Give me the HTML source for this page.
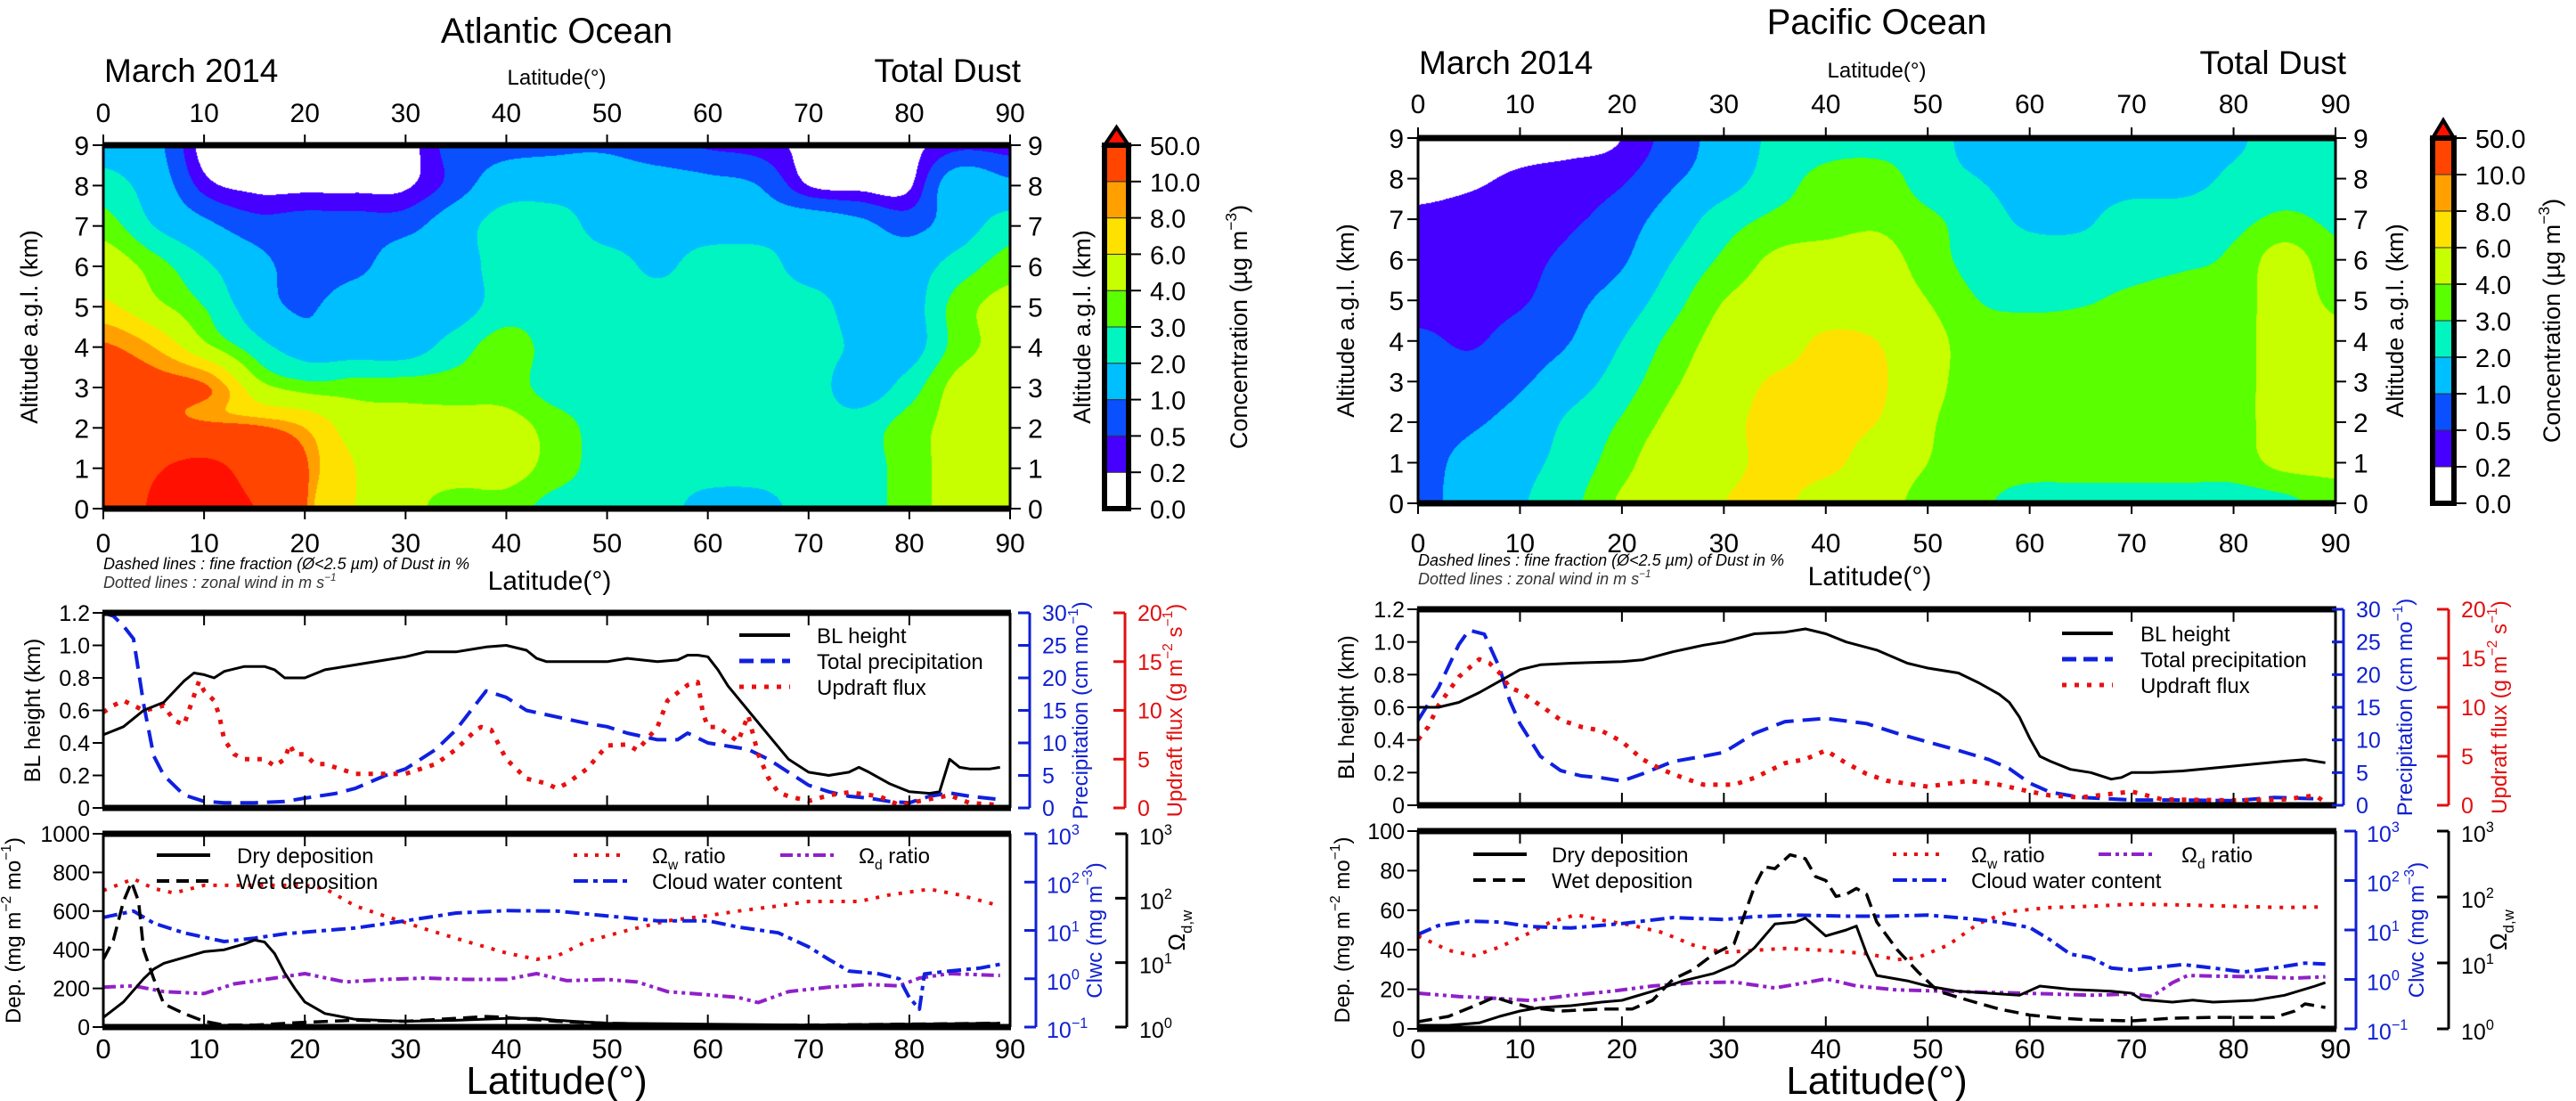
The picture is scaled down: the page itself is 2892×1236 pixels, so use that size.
<!DOCTYPE html>
<html><head><meta charset="utf-8">
<style>
html,body{margin:0;padding:0;background:#fff;}
#wrap{position:relative;width:2892px;height:1236px;overflow:hidden;background:#fff;font-family:"Liberation Sans",sans-serif;}
canvas{position:absolute;}
#fig{position:absolute;left:0;top:0;}
</style></head>
<body>
<div id="wrap">
<canvas id="atl-map" width="1018" height="408" style="left:116px;top:163px"></canvas>
<canvas id="pac-map" width="1030" height="410" style="left:1592px;top:155px"></canvas>
<svg id="fig" xmlns="http://www.w3.org/2000/svg" width="2892" height="1236" font-family="Liberation Sans, sans-serif"></svg>
</div>
<script>
// ---------- DATA ----------
const latGrid=[0,5,10,15,20,25,30,35,40,45,50,55,60,65,70,75,80,85,90];
const altGrid=[0,1,2,3,4,5,6,7,8,9];
const atlConc=[
[15,55,60,50,11,6,4.5,3.5,3.5,2.5,2.5,2.5,1.5,1.5,2.5,2.5,3.5,4.5,4.5],
[15,45,60,35,11,6,4.5,4.5,4.5,3.5,2.5,2.5,2.5,2.5,2.5,2.5,3.5,4.5,4.5],
[15,15,13,11,8,5,4.5,4.5,4.5,3.5,2.5,2.5,2.5,2.5,2.5,2.5,3.5,4.5,5],
[14,12,10.5,5,3.5,3.5,3.5,3.5,3.5,2.5,2.5,2.5,2.5,2.5,2.5,1.5,2.5,4.5,5],
[10.5,8,4.5,2.5,1.5,1.5,1.5,2.5,3.5,2.5,2.5,2.5,2.5,2.5,2.5,1.8,1.5,3.5,4.5],
[6.5,4.5,3,1.5,0.9,1.5,1.5,1.5,2.5,2.5,2.5,2.5,2.5,2.5,2.5,1.5,1.5,3.5,4.5],
[5,3.5,2.2,1.3,0.7,0.8,1.5,1.5,2.5,2.5,2.5,1.8,2.5,2.5,1.5,1.5,1.5,2.5,3.5],
[3.5,2,1.2,0.7,0.7,0.7,0.8,1.5,2.5,2.5,1.5,1.5,1.5,1.5,1.5,1.2,0.8,1.5,2.5],
[2.5,1.5,0.35,0.12,0.12,0.12,0.15,0.7,1.5,1.5,1.5,1.4,1.2,1.0,0.2,0.1,0.15,1.5,1.2],
[1.5,1.2,0.05,0.05,0.05,0.05,0.05,0.7,0.8,0.9,0.9,0.6,0.45,0.35,0.1,0.05,0.1,0.4,0.35]];
const pacConc=[
[0.8,1.3,1.9,2.7,4.2,5,6,6.5,5,4.5,3.6,3.2,2.5,2.5,2.5,2.5,2.5,2.7,3.5],
[0.8,1.2,1.7,2.4,3.6,5,5.5,6.5,6.5,5,4,3.5,3.5,3.5,3.5,3.5,3.5,4.3,4.3],
[0.8,0.9,1.3,2.2,3.1,4.4,5.5,6.5,6.5,6,4.2,3.5,3.5,3.5,3.5,3.5,3.6,4.5,4.3],
[0.8,0.7,0.9,1.5,2.5,3.8,5,6.2,6.5,6.3,4.5,3.5,3.5,3.5,3.5,3.5,3.6,4.5,4.3],
[0.6,0.45,0.7,1,2,3.3,4.5,5,6.3,6,4.5,3.5,3.5,3.5,3.5,3.5,3.6,4.5,4.3],
[0.3,0.35,0.45,0.8,1.4,2.6,4,4.5,4.8,4.8,4,3,2.8,2.9,3.2,3.5,3.5,4.5,3.8],
[0.3,0.35,0.4,0.6,0.9,2,3.2,4.2,4.5,4.5,3.5,2.6,2.5,2.5,2.6,2.8,3.2,4.5,3.3],
[0.25,0.3,0.35,0.45,0.7,1.4,2.5,3.2,3.5,3.8,3.2,2.5,1.8,1.8,2.5,2.5,2.7,3.2,2.8],
[0.1,0.15,0.25,0.35,0.45,0.9,1.5,2.5,3.3,3.5,2.5,2,1.5,1.5,1.5,1.6,2.2,2.5,2.5],
[0.05,0.05,0.05,0.05,0.2,0.7,1.3,2.2,2.5,2.5,2.5,1.5,1.5,1.5,1.5,1.5,1.8,2.5,2.5]];
const concLevels=[0,0.2,0.5,1,2,3,4,6,8,10,50];
const concLabels=['0.0','0.2','0.5','1.0','2.0','3.0','4.0','6.0','8.0','10.0','50.0'];
const levelColors=['#ffffff','#4600ff','#0a50ff','#00bfff','#00f5c0','#5aff00','#c8ff00','#ffe100','#ffa000','#ff4500','#ff1000'];
const latTicks=[0,10,20,30,40,50,60,70,80,90];

const atlBLLat=[0,2,4,6,8,9,10,11,12,14,16,17,18,19,20,22,25,28,30,32,35,37,38,40,42,43,44,46,48,50,52,55,57,58,59,60,61,62,64,66,68,70,72,74,75,76,78,80,82,83,84,85,86,88,89];
const atlBL=[0.45,0.5,0.6,0.65,0.78,0.83,0.82,0.8,0.84,0.87,0.87,0.85,0.8,0.8,0.8,0.85,0.88,0.91,0.93,0.96,0.96,0.98,0.99,1.0,0.97,0.92,0.9,0.9,0.9,0.9,0.92,0.9,0.91,0.94,0.94,0.93,0.85,0.75,0.6,0.45,0.3,0.22,0.2,0.22,0.25,0.22,0.15,0.1,0.09,0.1,0.3,0.25,0.24,0.24,0.25];
const atlPrecipLat=[0,1,2,3,4,5,6,8,10,12,15,18,20,23,25,28,30,33,35,37,38,40,42,45,48,50,52,55,57,58,60,62,64,66,68,70,72,74,76,78,80,82,84,86,89];
const atlPrecip=[30,29.5,28,26,16,8,5,2,1,0.8,0.8,1,1.5,2.2,3,5,6,9,12,16,18,17,15,14,13,12.5,11.5,10.5,10.5,11.5,10,9.5,9,7.5,5.5,3.5,2.5,1.8,1.5,1,0.8,1.8,2.3,1.8,1.3];
const atlUpLat=[0,1,2,3,4,5,6,7,8,9,9.5,10,11,11.5,12,13,14,15,16,17,18,18.5,19,20,21,22,25,28,30,33,35,37,37.5,38.5,40,42,44,45,46,48,50,52,53,55,56,58,59,59.5,60,61,63,64,65,66,67,68,70,72,74,77,79,81,84,86,89];
const atlUp=[9.8,10.5,11,10.5,10,10.2,10.5,9,8.5,11.5,13,12,11,9.5,7,5.5,5,5,5,4.3,5,6.5,5.5,5.5,4.5,4.5,3.5,3.5,3.5,4.5,6,8,8.3,8,5,3,2.5,2,2.5,4,6.4,6.5,5.9,8.3,11,12.6,12.9,9.8,8.3,8.3,6.8,9.5,5.5,3.1,1.6,1.2,0.7,1.3,1.6,1.2,0.3,0.7,1.3,0.5,0.3];
const atlDryLat=[0,2,4,5,6,8,10,12,14,15,16,17,18,19,20,22,25,30,35,40,43,45,50,60,70,80,89];
const atlDry=[50,130,250,300,330,360,390,400,430,450,440,380,280,200,130,70,40,30,35,45,45,35,20,15,10,15,20];
const atlWetLat=[0,1,2,2.8,3.5,4,5,6,8,10,12,15,20,25,30,35,38,40,45,50,60,70,80,89];
const atlWet=[350,450,650,750,650,400,250,120,70,30,10,10,25,35,30,45,55,50,30,20,10,10,15,20];
const atlClwcLat=[0,3,5,8,12,15,18,25,30,35,40,45,50,55,60,63,67,70,72,74,77,79,80,81,81.5,84,87,89];
const atlClwcLog10=[1.27,1.4,1.15,0.95,0.77,0.84,0.93,1.05,1.2,1.36,1.41,1.4,1.3,1.2,1.2,1.07,0.95,0.66,0.4,0.16,0.1,0,-0.39,-0.63,0.1,0.16,0.22,0.3];
const atlOwLat=[0,3,5,7,10,15,20,22,25,28,32,36,40,43,45,48,52,56,60,63,67,70,75,78,82,85,89];
const atlOwLog10=[2.12,2.3,2.15,2.08,2.2,2.2,2.2,2.15,1.88,1.72,1.52,1.33,1.15,1.05,1.1,1.33,1.5,1.65,1.73,1.8,1.88,1.95,1.95,2.05,2.14,2.05,1.88];
const atlOdLat=[0,3,6,10,13,17,20,24,28,32,36,40,43,46,50,53,56,60,63,65,68,72,76,79,81,84,89];
const atlOdLog10=[0.62,0.64,0.55,0.52,0.67,0.76,0.83,0.7,0.74,0.76,0.74,0.74,0.83,0.72,0.74,0.7,0.55,0.5,0.46,0.38,0.55,0.62,0.66,0.64,0.76,0.83,0.8];

const pacBLLat=[0,2,4,6,8,10,12,15,20,22,25,28,30,33,36,38,40,42,45,48,50,53,55,57,58,59,60,61,62,64,66,68,69,70,72,75,80,85,87,89];
const pacBL=[0.6,0.6,0.63,0.69,0.76,0.83,0.86,0.87,0.88,0.89,0.94,0.98,1.0,1.05,1.06,1.08,1.05,1.0,0.95,0.87,0.84,0.81,0.75,0.68,0.63,0.54,0.41,0.3,0.27,0.22,0.2,0.16,0.17,0.2,0.2,0.21,0.24,0.27,0.28,0.26];
const pacPrecipLat=[0,2,4,5,6.5,8,9,10,12,14,16,18,20,22,25,28,30,33,36,40,44,47,50,53,56,58,60,62,65,70,75,80,84,88];
const pacPrecip=[13,18,24.6,26.8,26.2,21,16,12.5,7.5,5.3,4.5,4.2,3.7,4.8,6.7,7.5,8.1,11,12.8,13.3,12.5,11,9.7,8.4,7,5.6,3.4,2,1.2,0.8,0.8,0.7,1.2,1];
const pacUpLat=[0,1,2,4,6,7,8,9,10,12,14,16,18,20,22,24,26,28,31,33,36,38,40,42,44,46,50,54,57,60,62,65,70,73,80,85,88,89];
const pacUp=[6.7,8,10.2,13.1,14.9,14.5,13.5,12,11.6,10.2,8.7,8,7.6,6.5,4.7,3.6,2.8,2.1,2.1,2.8,4.3,4.7,5.6,4.3,3.2,2.5,1.9,2.5,2.1,1.4,1,0.8,1.4,0.6,0.5,0.6,1,0.3];
const pacDryLat=[0,3,6,8,10,12,15,18,20,23,26,29,31,33,35,37,38,40,42,43,44,45,48,50,53,56,59,61,64,68,70,71,74,76,78,82,85,88,89];
const pacDry=[1.8,1.8,3,6.3,9,10.8,11.7,13.5,14.4,19,24.3,28,32.4,41,53,54,56,47,50,52,38,27,24.3,21.6,19,18,17,21.6,20,19,18,14.8,13.5,14.5,13.5,14.4,17,21.6,23.4];
const pacWetLat=[0,3,6,7.5,9,11,14,18,21,23,25,27,29,31,33,34,35,36.5,38,39,40,41,42,43,44,45,47,49,51,54,57,60,63,66,70,74,78,84,86,87,89];
const pacWet=[3.6,6.3,12.6,16,13.5,10.8,9,10,10,14.4,25,30,37.8,43,72,82,81,88,86,77,75,67,68,71,68,54,40,29,19,14.4,10,7,5.4,4.5,4,5.4,5.8,5.8,9,12.6,10.8];
const pacClwcLat=[0,2,5,8,11,15,20,25,30,33,37,42,46,50,54,57,60,62,64,66,68,70,72,75,78,81,84,87,89];
const pacClwcLog10=[0.91,1.09,1.18,1.16,1.07,1.04,1.13,1.25,1.21,1.27,1.3,1.28,1.28,1.3,1.23,1.16,1.05,0.8,0.51,0.44,0.23,0.19,0.23,0.3,0.23,0.15,0.23,0.33,0.31];
const pacOwLat=[0,3,5.5,8,11,13,15.5,18,21,24,27,30,33,36,40,44,47,49,52,55,58,62,66,70,75,80,85,89];
const pacOwLog10=[1.41,1.19,1.11,1.24,1.46,1.62,1.73,1.65,1.57,1.46,1.27,1.16,1.19,1.22,1.19,1.14,1.05,1.08,1.27,1.6,1.78,1.84,1.86,1.89,1.88,1.86,1.84,1.85];
const pacOdLat=[0,4,8,11,15,19,23,27,31,35,38,40,43,47,52,57,62,66,70,72,74,75.5,78,82,86,89];
const pacOdLog10=[0.54,0.49,0.46,0.43,0.51,0.57,0.65,0.7,0.71,0.62,0.7,0.76,0.65,0.59,0.57,0.55,0.53,0.51,0.53,0.49,0.7,0.81,0.8,0.79,0.77,0.79];

const blTicks=[0,0.2,0.4,0.6,0.8,1.0,1.2];
const blTickLabels=['0','0.2','0.4','0.6','0.8','1.0','1.2'];
const precipTicks=[0,5,10,15,20,25,30];
const updraftTicks=[0,5,10,15,20];
const atlDepTicks=[0,200,400,600,800,1000];
const pacDepTicks=[0,20,40,60,80,100];
const clwcExps=[-1,0,1,2,3];
const omegaExps=[0,1,2,3];

// ---------- HELPERS ----------
const NS='http://www.w3.org/2000/svg';
const svg=document.getElementById('fig');
function mk(tag,attrs,parent){const e=document.createElementNS(NS,tag);for(const k in attrs)e.setAttribute(k,attrs[k]);(parent||svg).appendChild(e);return e;}
function tag(el,name){
  
  
}
function text(x,y,parts,size,opt,name){
  opt=opt||{};
  const a={x:x,y:y,'font-size':size,fill:opt.fill||'#000','text-anchor':opt.anchor||'start'};
  if(opt.rot)a.transform='rotate(-90 '+x+' '+y+')';
  if(opt.italic)a['font-style']='italic';
  const t=mk('text',a);
  tag(t,name);
  if(typeof parts==='string')parts=[[parts,0]];
  let shift=0;
  parts.forEach(p=>{const s=mk('tspan',{},t);s.textContent=p[0];
    let target=p[1]===1?-0.45*size:(p[1]===-1?0.3*size:0);
    s.setAttribute('dy',target-shift);shift=target;
    if(p[1])s.setAttribute('font-size',size*0.65);});
  return t;
}
function line(x1,y1,x2,y2,stroke,w,name){const l=mk('line',{x1:x1,y1:y1,x2:x2,y2:y2,stroke:stroke,'stroke-width':w});tag(l,name);return l;}
function series(lats,vals,xf,yf,style,name){
  let d='';for(let i=0;i<lats.length;i++){d+=(i?'L':'M')+xf(lats[i]).toFixed(1)+' '+yf(vals[i]).toFixed(1);}
  const p=mk('path',Object.assign({d:d,fill:'none','stroke-linejoin':'round'},style));tag(p,name);return p;
}
function cr(p0,p1,p2,p3,t){return 0.5*(2*p1+(-p0+p2)*t+(2*p0-5*p1+4*p2-p3)*t*t+(-p0+3*p1-3*p2+p3)*t*t*t);}
function interp(grid,lat,alt){
  const nx=grid[0].length,ny=grid.length;
  let i=Math.min(Math.floor(lat/5),nx-2),fx=lat/5-i;
  let j=Math.min(Math.floor(alt),ny-2),fy=alt-j;
  const cl=(a,n)=>Math.max(0,Math.min(n-1,a));
  const rows=[];
  for(let r=-1;r<=2;r++){const row=grid[cl(j+r,ny)];
    rows.push(cr(row[cl(i-1,nx)],row[i],row[i+1],row[cl(i+2,nx)],fx));}
  return cr(rows[0],rows[1],rows[2],rows[3],fy);
}
function fillMap(id,grid){
  const c=document.getElementById(id),ctx=c.getContext('2d'),W=c.width,H=c.height;
  const img=ctx.createImageData(W,H);
  const rgb=levelColors.map(h=>[parseInt(h.slice(1,3),16),parseInt(h.slice(3,5),16),parseInt(h.slice(5,7),16)]);
  for(let py=0;py<H;py++){const alt=9*(1-(py+0.5)/H);
    for(let px=0;px<W;px++){const lat=90*(px+0.5)/W;const v=interp(grid,lat,alt);
      let k=0;while(k<10&&v>=concLevels[k+1])k++;
      const o=(py*W+px)*4;img.data[o]=rgb[k][0];img.data[o+1]=rgb[k][1];img.data[o+2]=rgb[k][2];img.data[o+3]=255;}}
  ctx.putImageData(img,0,0);
}

// ---------- PANELS ----------
const panels=[
 {key:'atlantic',grid:atlConc,map:'atl-map',X0:116,X1:1134,mY0:163,mY1:571,cbX:1240,cbW:27,title:'Atlantic Ocean',titleY:48,monthY:92,latTopY:95,topTickY:137,
  altTitleL:42,altTitleR:1224,concTitle:1400,noteY:639,midLatY:662,
  blY0:688,blY1:907,blBlue:1156,blRed:1263,precipT:1221,upT:1327,blT:45,
  dY0:936,dY1:1153,dBlue:1163,dBlack:1265,clwcT:1237,omT:1330,depT:23,depMax:1000,depTicks:atlDepTicks,
  blLeg:[830,917,713],depLeg:[176,266,960,644,732,876,964],
  bl:[atlBLLat,atlBL],pr:[atlPrecipLat,atlPrecip],up:[atlUpLat,atlUp],dry:[atlDryLat,atlDry],wet:[atlWetLat,atlWet],cl:[atlClwcLat,atlClwcLog10],ow:[atlOwLat,atlOwLog10],od:[atlOdLat,atlOdLog10]},
 {key:'pacific',grid:pacConc,map:'pac-map',X0:1592,X1:2622,mY0:155,mY1:565,cbX:2731,cbW:24,title:'Pacific Ocean',titleY:38,monthY:83,latTopY:87,topTickY:127,
  altTitleL:1520,altTitleR:2698,concTitle:2874,noteY:635,midLatY:657,
  blY0:684,blY1:904,blBlue:2631,blRed:2749,precipT:2708,upT:2814,blT:1520,
  dY0:933,dY1:1155,dBlue:2645,dBlack:2749,clwcT:2721,omT:2814,depT:1515,depMax:100,depTicks:pacDepTicks,
  blLeg:[2315,2403,711],depLeg:[1654,1742,959,2125,2213,2356,2449],
  bl:[pacBLLat,pacBL],pr:[pacPrecipLat,pacPrecip],up:[pacUpLat,pacUp],dry:[pacDryLat,pacDry],wet:[pacWetLat,pacWet],cl:[pacClwcLat,pacClwcLog10],ow:[pacOwLat,pacOwLog10],od:[pacOdLat,pacOdLog10]}
];

panels.forEach(P=>{
  const k=P.key;
  fillMap(P.map,P.grid);
  const xf=lat=>P.X0+(P.X1-P.X0)*lat/90;
  const cx=(P.X0+P.X1)/2;
  text(cx,P.titleY,P.title,40,{anchor:'middle'},k+'-title');
  text(P.X0+1,P.monthY,'March 2014',37,{},k+'-date-label');
  text(P.X1+12,P.monthY,'Total Dust',37,{anchor:'end'},k+'-species-label');
  text(cx,P.latTopY,'Latitude(°)',24,{anchor:'middle'},k+'-top-x-axis-title');
  const Y0=P.mY0,Y1=P.mY1,yA=a=>Y1-(Y1-Y0)*a/9;
  const fr=mk('rect',{x:P.X0,y:Y0,width:P.X1-P.X0,height:Y1-Y0,fill:'none',stroke:'#000','stroke-width':3});tag(fr,k+'-map-frame');
  line(P.X0-1,Y0,P.X1+1,Y0,'#000',7,k+'-map-top-border');
  line(P.X0-1,Y1,P.X1+1,Y1,'#000',7,k+'-map-bottom-border');
  latTicks.forEach(t=>{
    line(xf(t),Y0-12,xf(t),Y0,'#000',2,k+'-map-top-tick');
    text(xf(t),P.topTickY,String(t),30,{anchor:'middle'},k+'-map-top-tick-label');
    line(xf(t),Y1,xf(t),Y1+12,'#000',2,k+'-map-bottom-tick');
    text(xf(t),620,String(t),30,{anchor:'middle'},k+'-map-bottom-tick-label');
  });
  altGrid.forEach(a=>{
    line(P.X0-12,yA(a),P.X0,yA(a),'#000',2,k+'-alt-left-tick');
    text(P.X0-16,yA(a)+11,String(a),30,{anchor:'end'},k+'-alt-left-tick-label');
    line(P.X1,yA(a),P.X1+12,yA(a),'#000',2,k+'-alt-right-tick');
    text(P.X1+20,yA(a)+11,String(a),30,{},k+'-alt-right-tick-label');
  });
  text(P.altTitleL,(Y0+Y1)/2,'Altitude a.g.l. (km)',27,{anchor:'middle',rot:1},k+'-altitude-title-left');
  text(P.altTitleR,(Y0+Y1)/2,'Altitude a.g.l. (km)',27,{anchor:'middle',rot:1},k+'-altitude-title-right');
  const h=(Y1-Y0)/10;
  for(let i=0;i<10;i++){
    const r=mk('rect',{x:P.cbX,y:Y1-(i+1)*h,width:P.cbW,height:h,fill:levelColors[i],stroke:'#333','stroke-width':1});
    tag(r,k+'-colorbar-box');
  }
  const tri=mk('polygon',{points:P.cbX+','+Y0+' '+(P.cbX+P.cbW/2)+','+(Y0-20)+' '+(P.cbX+P.cbW)+','+Y0,fill:'#ff1000',stroke:'#000','stroke-width':4,'stroke-linejoin':'miter'});
  tag(tri,k+'-colorbar-overflow-triangle');
  const cbf=mk('rect',{x:P.cbX,y:Y0,width:P.cbW,height:Y1-Y0,fill:'none',stroke:'#000','stroke-width':6});tag(cbf,k+'-colorbar-frame');
  concLabels.forEach((s,i)=>{
    line(P.cbX+P.cbW,Y1-i*h,P.cbX+P.cbW+14,Y1-i*h,'#000',2,k+'-colorbar-tick');
    text(P.cbX+P.cbW+24,Y1-i*h+11,s,29,{},k+'-colorbar-label');
  });
  text(P.concTitle,(Y0+Y1)/2,[['Concentration (µg m',0],['−3',1],[')',0]],27,{anchor:'middle',rot:1},k+'-colorbar-title');
  text(P.X0,P.noteY,'Dashed lines : fine fraction (Ø<2.5 µm) of Dust in %',18,{italic:1},k+'-dashed-lines-note');
  text(P.X0,P.noteY+21,[['Dotted lines : zonal wind in m s',0],['−1',1]],18,{italic:1,fill:'#333'},k+'-dotted-lines-note');
  text(cx-8,P.midLatY,'Latitude(°)',30,{anchor:'middle'},k+'-map-x-axis-title');

  const B0=P.blY0,B1=P.blY1;
  const yBL=v=>B1-(B1-B0)*v/1.2, yPr=v=>B1-(B1-B0)*v/30, yUp=v=>B1-(B1-B0)*v/20;
  series(P.pr[0],P.pr[1],xf,yPr,{stroke:'#1020e0','stroke-width':4,'stroke-dasharray':'20 10'},k+'-precipitation-line');
  series(P.up[0],P.up[1],xf,yUp,{stroke:'#e81010','stroke-width':5,'stroke-dasharray':'5 9'},k+'-updraft-flux-line');
  series(P.bl[0],P.bl[1],xf,yBL,{stroke:'#000','stroke-width':3},k+'-bl-height-line');
  line(P.X0,B0,P.X0,B1,'#000',3,k+'-bl-left-border');
  line(P.X1,B0,P.X1,B1,'#000',3,k+'-bl-right-border');
  line(P.X0-1,B0,P.X1+1,B0,'#000',7,k+'-bl-top-border');
  line(P.X0-1,B1,P.X1+1,B1,'#000',7,k+'-bl-bottom-border');
  latTicks.slice(1,9).forEach(t=>{line(xf(t),B0,xf(t),B0+14,'#000',2,k+'-bl-top-tick');line(xf(t),B1-14,xf(t),B1,'#000',2,k+'-bl-bottom-tick');});
  blTicks.forEach((v,i)=>{line(P.X0-12,yBL(v),P.X0,yBL(v),'#000',2,k+'-bl-y-tick');text(P.X0-15,yBL(v)+9,blTickLabels[i],25,{anchor:'end'},k+'-bl-y-tick-label');});
  text(P.blT,(B0+B1)/2,'BL height (km)',25,{anchor:'middle',rot:1},k+'-bl-y-axis-title');
  line(P.blBlue,B0,P.blBlue,B1,'#1020d0',3,k+'-precip-axis-line');
  precipTicks.forEach(v=>{line(P.blBlue-13,yPr(v),P.blBlue,yPr(v),'#1020d0',3,k+'-precip-tick');text(P.blBlue+14,yPr(v)+9,String(v),25,{fill:'#1020d0'},k+'-precip-tick-label');});
  text(P.precipT,(B0+B1)/2,[['Precipitation (cm mo',0],['−1',1],[')',0]],24,{anchor:'middle',rot:1,fill:'#1020d0'},k+'-precip-axis-title');
  line(P.blRed,B0,P.blRed,B1,'#e01010',3,k+'-updraft-axis-line');
  updraftTicks.forEach(v=>{line(P.blRed-13,yUp(v),P.blRed,yUp(v),'#e01010',3,k+'-updraft-tick');text(P.blRed+14,yUp(v)+9,String(v),25,{fill:'#e01010'},k+'-updraft-tick-label');});
  text(P.upT,(B0+B1)/2,[['Updraft flux (g m',0],['−2',1],[' s',0],['−1',1],[')',0]],24,{anchor:'middle',rot:1,fill:'#e01010'},k+'-updraft-axis-title');
  const L=P.blLeg;
  line(L[0],L[2],L[0]+57,L[2],'#000',4,k+'-legend-bl-height-swatch');
  text(L[1],L[2]+9,'BL height',24,{},k+'-legend-bl-height-label');
  const ls2=line(L[0],L[2]+29,L[0]+57,L[2]+29,'#1020e0',5,k+'-legend-precip-swatch');ls2.setAttribute('stroke-dasharray','16 8');
  text(L[1],L[2]+38,'Total precipitation',24,{},k+'-legend-precip-label');
  const ls3=line(L[0],L[2]+58,L[0]+57,L[2]+58,'#e81010',5,k+'-legend-updraft-swatch');ls3.setAttribute('stroke-dasharray','5 9');
  text(L[1],L[2]+67,'Updraft flux',24,{},k+'-legend-updraft-label');

  const D0=P.dY0,D1=P.dY1;
  const yDep=v=>D1-(D1-D0)*v/P.depMax, yCl=e=>D1-(D1-D0)*(e+1)/4, yOm=e=>D1-(D1-D0)*e/3;
  series(P.ow[0],P.ow[1],xf,yOm,{stroke:'#e81010','stroke-width':4,'stroke-dasharray':'4 9'},k+'-omega-w-line');
  series(P.od[0],P.od[1],xf,yOm,{stroke:'#9020c8','stroke-width':4,'stroke-dasharray':'14 5 4 5 4 5'},k+'-omega-d-line');
  series(P.cl[0],P.cl[1],xf,yCl,{stroke:'#1020e0','stroke-width':4,'stroke-dasharray':'16 6 5 6'},k+'-cloud-water-line');
  series(P.wet[0],P.wet[1],xf,yDep,{stroke:'#000','stroke-width':3.5,'stroke-dasharray':'16 8'},k+'-wet-deposition-line');
  series(P.dry[0],P.dry[1],xf,yDep,{stroke:'#000','stroke-width':3},k+'-dry-deposition-line');
  line(P.X0,D0,P.X0,D1,'#000',3,k+'-dep-left-border');
  line(P.X1,D0,P.X1,D1,'#000',3,k+'-dep-right-border');
  line(P.X0-1,D0,P.X1+1,D0,'#000',7,k+'-dep-top-border');
  line(P.X0-1,D1,P.X1+1,D1,'#000',7,k+'-dep-bottom-border');
  latTicks.slice(1,9).forEach(t=>{line(xf(t),D0,xf(t),D0+14,'#000',2,k+'-dep-top-tick');line(xf(t),D1-14,xf(t),D1,'#000',2,k+'-dep-bottom-tick');});
  latTicks.forEach(t=>{text(xf(t),1188,String(t),31,{anchor:'middle'},k+'-dep-x-tick-label');});
  P.depTicks.forEach(v=>{line(P.X0-12,yDep(v),P.X0,yDep(v),'#000',2,k+'-dep-y-tick');text(P.X0-15,yDep(v)+9,String(v),25,{anchor:'end'},k+'-dep-y-tick-label');});
  text(P.depT,(D0+D1)/2,[['Dep. (mg m',0],['−2',1],[' mo',0],['−1',1],[')',0]],24,{anchor:'middle',rot:1},k+'-dep-y-axis-title');
  text(cx,1228,'Latitude(°)',44,{anchor:'middle'},k+'-dep-x-axis-title');
  line(P.dBlue,D0,P.dBlue,D1,'#1020d0',3,k+'-clwc-axis-line');
  clwcExps.forEach(e=>{line(P.dBlue-13,yCl(e),P.dBlue,yCl(e),'#1020d0',3,k+'-clwc-tick');text(P.dBlue+12,yCl(e)+12,[['10',0],[String(e).replace('-','−'),1]],25,{fill:'#1020d0'},k+'-clwc-tick-label');});
  text(P.clwcT,(D0+D1)/2,[['Clwc (mg m',0],['−3',1],[')',0]],24,{anchor:'middle',rot:1,fill:'#1020d0'},k+'-clwc-axis-title');
  line(P.dBlack,D0,P.dBlack,D1,'#000',3,k+'-omega-axis-line');
  omegaExps.forEach(e=>{line(P.dBlack-13,yOm(e),P.dBlack,yOm(e),'#000',3,k+'-omega-tick');text(P.dBlack+14,yOm(e)+12,[['10',0],[String(e),1]],25,{},k+'-omega-tick-label');});
  text(P.omT,(D0+D1)/2,[['Ω',0],['d,w',-1]],26,{anchor:'middle',rot:1},k+'-omega-axis-title');
  const G=P.depLeg;
  line(G[0],G[2],G[0]+60,G[2],'#000',4,k+'-legend-dry-swatch');
  text(G[1],G[2]+9,'Dry deposition',24,{},k+'-legend-dry-label');
  const w1=line(G[0],G[2]+29,G[0]+60,G[2]+29,'#000',4,k+'-legend-wet-swatch');w1.setAttribute('stroke-dasharray','14 8');
  text(G[1],G[2]+38,'Wet deposition',24,{},k+'-legend-wet-label');
  const o1=line(G[3],G[2],G[3]+60,G[2],'#e81010',4,k+'-legend-omega-w-swatch');o1.setAttribute('stroke-dasharray','4 8');
  text(G[4],G[2]+9,[['Ω',0],['w',-1],[' ratio',0]],24,{},k+'-legend-omega-w-label');
  const o2=line(G[5],G[2],G[5]+60,G[2],'#9020c8',4,k+'-legend-omega-d-swatch');o2.setAttribute('stroke-dasharray','14 5 4 5 4 5');
  text(G[6],G[2]+9,[['Ω',0],['d',-1],[' ratio',0]],24,{},k+'-legend-omega-d-label');
  const c1=line(G[3],G[2]+29,G[3]+60,G[2]+29,'#1020e0',4,k+'-legend-clwc-swatch');c1.setAttribute('stroke-dasharray','16 6 5 6');
  text(G[4],G[2]+38,'Cloud water content',24,{},k+'-legend-clwc-label');
});
</script>
</body></html>
